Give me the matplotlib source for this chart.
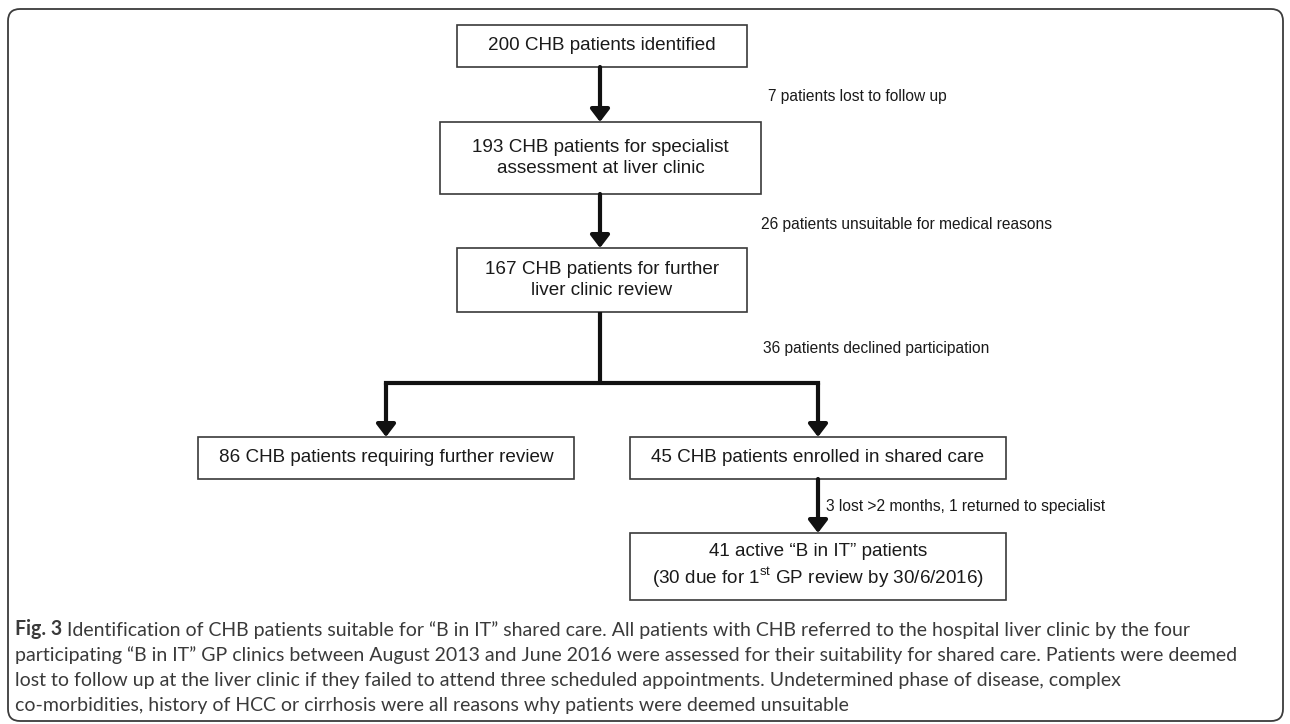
import matplotlib
matplotlib.use("Agg")
import matplotlib.pyplot as plt
from matplotlib.patches import FancyBboxPatch, Rectangle

plt.rcParams['font.family'] = ['Liberation Sans', 'DejaVu Sans']
plt.rcParams['mathtext.fontset'] = 'custom'
plt.rcParams['mathtext.rm'] = 'Liberation Sans'

# patient counts at each stage and the numbers dropped between stages
counts = [200, 193, 167, 86, 45, 41]
dropped = [7, 26, 36, 3, 1]
due_first_review = 30

box_texts = [
    '%d CHB patients identified' % counts[0],
    '%d CHB patients for specialist\nassessment at liver clinic' % counts[1],
    '%d CHB patients for further\nliver clinic review' % counts[2],
    '%d CHB patients requiring further review' % counts[3],
    '%d CHB patients enrolled in shared care' % counts[4],
    '%d active \u201cB in IT\u201d patients\n(%d due for 1$^{\\rm st}$ GP review by 30/6/2016)'
    % (counts[5], due_first_review),
]
side_texts = [
    '%d patients lost to follow up' % dropped[0],
    '%d patients unsuitable for medical reasons' % dropped[1],
    '%d patients declined participation' % dropped[2],
    '%d lost >2 months, %d returned to specialist' % (dropped[3], dropped[4]),
]
caption_head = 'Fig. 3'
caption_lines = [
    ' Identification of CHB patients suitable for \u201cB in IT\u201d shared care. All patients with CHB referred to the hospital liver clinic by the four',
    'participating \u201cB in IT\u201d GP clinics between August 2013 and June 2016 were assessed for their suitability for shared care. Patients were deemed',
    'lost to follow up at the liver clinic if they failed to attend three scheduled appointments. Undetermined phase of disease, complex',
    'co-morbidities, history of HCC or cirrhosis were all reasons why patients were deemed unsuitable',
]

# layout in pixels (x0, x1, y0, y1), y downwards
boxes = [
    (457, 747, 25, 67),
    (440, 761, 122, 194),
    (457, 747, 248, 312),
    (198, 574, 437, 479),
    (630, 1006, 437, 479),
    (630, 1006, 533, 600),
]
side_pos = [(768, 96), (761, 224), (763, 348), (826, 506)]

fig = plt.figure(figsize=(12.9, 7.24), dpi=100)
ax = fig.add_axes([0, 0, 1, 1])
ax.set_xlim(0, 1290)
ax.set_ylim(724, 0)
ax.axis('off')

# outer frame
frame = FancyBboxPatch((8, 9), 1275, 712, boxstyle='round,pad=0,rounding_size=12',
                       fc='white', ec='#3c3c3c', lw=1.3)
ax.add_patch(frame)

for (x0, x1, y0, y1), txt in zip(boxes, box_texts):
    ax.add_patch(Rectangle((x0, y0), x1 - x0, y1 - y0, fc='white', ec='#3a3a3a', lw=1.2))
    ax.text((x0 + x1) / 2, (y0 + y1) / 2, txt, ha='center', va='center',
            fontsize=13.6, color='#1a1a1a', linespacing=1.3)

for (x, y), txt in zip(side_pos, side_texts):
    ax.text(x, y, txt, ha='left', va='center', fontsize=11.2, color='#1a1a1a')

ac = '#111111'
def arrow(x, y0, y1):
    ax.annotate('', xy=(x, y1), xytext=(x, y0),
                arrowprops=dict(arrowstyle='-|>,head_length=0.42,head_width=0.32',
                                lw=3.0, color=ac, mutation_scale=18,
                                shrinkA=0, shrinkB=0))

xl, xm, xr = 386, 600, 818
arrow(xm, 67, 122)
arrow(xm, 194, 248)
ax.plot([xm, xm], [312, 383], color=ac, lw=3.0, solid_capstyle='butt')
ax.plot([xl, xr], [383, 383], color=ac, lw=3.0, solid_capstyle='projecting')
arrow(xl, 383, 437)
arrow(xr, 383, 437)
arrow(xr, 479, 533)

# caption, sized so the second line spans the same width as in the figure
cap_font = dict(family=['Lato', 'DejaVu Sans'], fontsize=15, color='#3a3a3a')
y_lines = [635, 661, 686, 711]
x_cap = 15
cap = []
for y, line in zip(y_lines[1:], caption_lines[1:]):
    cap.append(ax.text(x_cap, y, line, ha='left', va='baseline', **cap_font))
r = fig.canvas.get_renderer()
fs = 15 * (1242 - x_cap) / cap[0].get_window_extent(r).width
for t in cap:
    t.set_fontsize(fs)
cap_font['fontsize'] = fs
head = ax.text(x_cap, y_lines[0], caption_head, ha='left', va='baseline',
               fontweight='bold', **cap_font)
ax.annotate(caption_lines[0], xy=(1, 0), xycoords=head, ha='left', va='bottom', **cap_font)

fig.savefig('out.png', dpi=100)
